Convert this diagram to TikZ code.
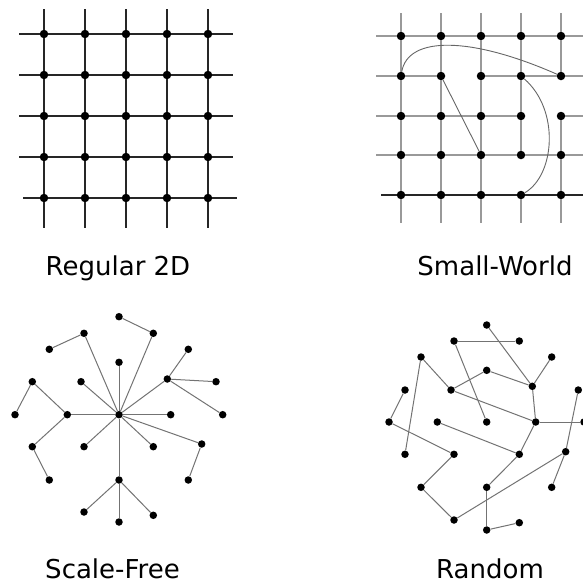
\documentclass[tikz,border=0pt]{standalone}
\usepackage{fontspec}
\setmainfont{DejaVu Sans}
\begin{document}
\begin{tikzpicture}[x=1pt,y=-1pt,
  dot/.style={circle,fill=black,inner sep=0pt,minimum size=8.5pt},
  gdot/.style={circle,fill=black,inner sep=0pt,minimum size=7.5pt},
  regline/.style={line width=1.3pt,draw=black!85},
  swline/.style={line width=1.5pt,draw=black!40},
  swdark/.style={line width=1.3pt,draw=black!85},
  swlink/.style={line width=0.9pt,draw=black!60},
  gedge/.style={line width=1pt,draw=black!55},
  lbl/.style={font=\fontsize{26}{30}\selectfont,anchor=base,inner sep=0pt}]
\useasboundingbox (0,0) rectangle (583,584);

% ---------------- Regular 2D ----------------
\foreach \x [count=\j] in {44,85,126,167,208} {
  \foreach \y [count=\i] in {34,75,116,157,198} {
    \node[dot] (r-\i-\j) at (\x,\y) {};
  }
  \coordinate (rt-\j) at (\x,9);
  \coordinate (rb-\j) at (\x,228);
  \draw[regline] (rt-\j) -- (r-1-\j) -- (r-2-\j) -- (r-3-\j) -- (r-4-\j) -- (r-5-\j) -- (rb-\j);
}
\foreach \y [count=\i] in {34,75,116,157} {
  \coordinate (rl-\i) at (19,\y);
  \coordinate (rr-\i) at (233,\y);
}
\coordinate (rl-5) at (23,198);
\coordinate (rr-5) at (237,198);
\foreach \i in {1,...,5} {
  \draw[regline] (rl-\i) -- (r-\i-1) -- (r-\i-2) -- (r-\i-3) -- (r-\i-4) -- (r-\i-5) -- (rr-\i);
}

% ---------------- Small-World ----------------
\foreach \x [count=\j] in {401,441,481,521,561} {
  \foreach \y [count=\i] in {36,76,116,155,195} {
    \node[dot] (s-\i-\j) at (\x,\y) {};
  }
  \coordinate (st-\j) at (\x,13);
  \coordinate (sb-\j) at (\x,223);
}
\foreach \y [count=\i] in {36,76,116,155} {
  \coordinate (sl-\i) at (376,\y);
  \coordinate (sr-\i) at (590,\y);
}
\coordinate (sl-5) at (381,195);
\coordinate (sr-5) at (590,195);
% vertical lines
\foreach \j in {1,2,3} {
  \draw[swline] (st-\j) -- (s-1-\j) -- (s-2-\j) -- (s-3-\j) -- (s-4-\j) -- (s-5-\j) -- (sb-\j);
}
\draw[swline] (st-4) -- (s-1-4) -- (s-2-4) -- (s-3-4) -- (s-4-4);
\draw[swline] (s-5-4) -- (sb-4);
\draw[swline] (st-5) -- (s-1-5) -- (s-2-5);
\draw[swline] (s-3-5) -- (s-4-5) -- (s-5-5) -- (sb-5);
% horizontal lines
\draw[swline] (sl-1) -- (s-1-1) -- (s-1-2) -- (s-1-3) -- (s-1-4) -- (s-1-5) -- (sr-1);
\draw[swline] (sl-2) -- (s-2-1) -- (s-2-2);
\draw[swline] (s-2-3) -- (s-2-4) -- (s-2-5) -- (sr-2);
\draw[swline] (sl-3) -- (s-3-1) -- (s-3-2) -- (s-3-3) -- (s-3-4);
\draw[swline] (s-3-5) -- (sr-3);
\draw[swline] (sl-4) -- (s-4-1) -- (s-4-2) -- (s-4-3) -- (s-4-4) -- (s-4-5) -- (sr-4);
\draw[swdark] (sl-5) -- (s-5-1) -- (s-5-2) -- (s-5-3) -- (s-5-4) -- (s-5-5) -- (sr-5);
% shortcuts
\draw[swlink] (s-2-1) .. controls (408,36) and (470,36) .. (s-2-5);
\draw[swlink] (s-2-2) -- (s-4-3);
\draw[swlink] (s-2-4) .. controls (560,110) and (555,175) .. (s-5-4);

% ---------------- Scale-Free ----------------
\node[gdot] (c) at (119,414.7) {};
\node[gdot] (f1) at (119,362.3) {};
\node[gdot] (f2) at (119,316.7) {};
\node[gdot] (f3) at (153.3,333.3) {};
\node[gdot] (f4) at (84,333.3) {};
\node[gdot] (f5) at (49.3,349.3) {};
\node[gdot] (f6) at (188.3,349.3) {};
\node[gdot] (f7) at (167.3,379) {};
\node[gdot] (f8) at (216,381.7) {};
\node[gdot] (f9) at (222.7,414.7) {};
\node[gdot] (f10) at (170.7,414.7) {};
\node[gdot] (f11) at (81,381.7) {};
\node[gdot] (f12) at (32.3,381.7) {};
\node[gdot] (f13) at (15,414.7) {};
\node[gdot] (f14) at (67.3,414.7) {};
\node[gdot] (f15) at (32.3,446.7) {};
\node[gdot] (f16) at (49.3,480) {};
\node[gdot] (f17) at (84,446.7) {};
\node[gdot] (f18) at (153.3,446.7) {};
\node[gdot] (f19) at (201.7,444) {};
\node[gdot] (f20) at (188.3,480) {};
\node[gdot] (f21) at (119,480) {};
\node[gdot] (f22) at (84,512) {};
\node[gdot] (f23) at (153.3,515.3) {};
\node[gdot] (f24) at (119,522) {};
\foreach \t in {f1,f3,f4,f7,f10,f11,f14,f17,f18,f19,f21} {
  \draw[gedge] (c) -- (\t);
}
\foreach \a/\b in {f21/f24,f2/f3,f4/f5,f7/f6,f7/f8,f7/f9,f14/f12,f12/f13,f14/f15,f15/f16,f19/f20,f21/f22,f21/f23} {
  \draw[gedge] (\a) -- (\b);
}

% ---------------- Random ----------------
\node[gdot] (a) at (486.7,325) {};
\node[gdot] (b) at (454,341) {};
\node[gdot] (cc) at (519.3,341) {};
\node[gdot] (d) at (421,357) {};
\node[gdot] (e) at (551.7,357) {};
\node[gdot] (f) at (486.7,370.3) {};
\node[gdot] (g) at (532.3,386.3) {};
\node[gdot] (h) at (451,390) {};
\node[gdot] (i) at (405,390) {};
\node[gdot] (j) at (578.3,390) {};
\node[gdot] (k) at (389,422) {};
\node[gdot] (l) at (437.3,422) {};
\node[gdot] (m) at (486.7,422) {};
\node[gdot] (n) at (535.7,422) {};
\node[gdot] (o) at (584,422) {};
\node[gdot] (p) at (405,454.3) {};
\node[gdot] (q) at (454,454.3) {};
\node[gdot] (r) at (519.3,454.3) {};
\node[gdot] (s) at (565.7,451.7) {};
\node[gdot] (t) at (421,487.3) {};
\node[gdot] (u) at (486.7,487.3) {};
\node[gdot] (v) at (551.7,487.3) {};
\node[gdot] (w) at (454,520) {};
\node[gdot] (xx) at (519.3,522.7) {};
\node[gdot] (yy) at (486.7,530) {};
\foreach \a/\b in {a/g,b/cc,b/m,d/h,d/p,e/g,f/h,f/g,h/n,g/n,i/k,k/q,l/r,n/o,n/r,j/s,s/v,s/w,q/t,t/w,r/u,u/yy,yy/xx} {
  \draw[gedge] (\a) -- (\b);
}

% ---------------- Labels ----------------
\node[lbl] (l1) at (118,275) {Regular 2D};
\node[lbl] (l2) at (495,275) {Small-World};
\node[lbl] (l3) at (112.5,578) {Scale-Free};
\node[lbl] (l4) at (490,578) {Random};
\end{tikzpicture}
\end{document}
